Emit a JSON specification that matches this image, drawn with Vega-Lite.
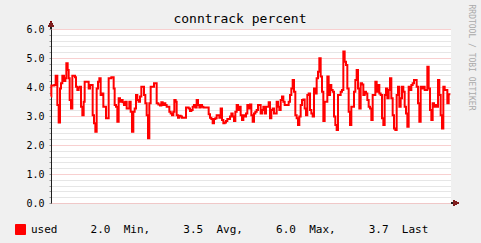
{
  "$schema": "https://vega.github.io/schema/vega-lite/v6.json",
  "width": 400,
  "height": 174,
  "autosize": {"type": "none"},
  "padding": {"left": 51, "top": 29, "right": 30, "bottom": 40},
  "background": "#F0F0F0",
  "config": {"view": {"fill": "#FFFFFF", "stroke": null}, "font": "DejaVu Sans Mono"},
  "title": {"text": "conntrack percent", "font": "DejaVu Sans Mono", "fontSize": 13, "fontWeight": "normal", "color": "#000000", "anchor": "middle", "dx": -11, "dy": 38, "offset": 6, "baseline": "alphabetic"},
  "data": {"values": [
    {"h":0,"v":3.67},{"h":0.02,"v":4.05},{"h":0.2,"v":4.07},{"h":0.28,"v":4.39},{"h":0.38,"v":3.38},{"h":0.46,"v":2.78},{"h":0.54,"v":3.95},{"h":0.6,"v":4.13},{"h":0.68,"v":4.39},{"h":0.78,"v":4.21},{"h":0.86,"v":4.30},{"h":0.92,"v":4.82},{"h":1.0,"v":4.59},{"h":1.06,"v":4.30},{"h":1.12,"v":3.55},{"h":1.2,"v":3.26},{"h":1.28,"v":4.39},{"h":1.44,"v":4.34},{"h":1.5,"v":4.01},{"h":1.58,"v":3.90},{"h":1.66,"v":3.98},{"h":1.74,"v":4.01},{"h":1.8,"v":3.32},{"h":1.88,"v":3.03},{"h":1.96,"v":3.49},{"h":2.02,"v":4.18},{"h":2.26,"v":3.95},{"h":2.34,"v":4.07},{"h":2.5,"v":3.03},{"h":2.58,"v":2.75},{"h":2.66,"v":2.46},{"h":2.74,"v":3.95},{"h":2.82,"v":4.18},{"h":2.9,"v":4.30},{"h":2.98,"v":3.72},{"h":3.06,"v":3.78},{"h":3.14,"v":3.32},{"h":3.3,"v":2.92},{"h":3.46,"v":4.30},{"h":3.62,"v":4.34},{"h":3.76,"v":3.95},{"h":3.82,"v":3.38},{"h":3.9,"v":3.32},{"h":3.98,"v":2.80},{"h":4.06,"v":3.61},{"h":4.14,"v":3.49},{"h":4.22,"v":3.55},{"h":4.3,"v":3.47},{"h":4.38,"v":3.38},{"h":4.46,"v":3.49},{"h":4.54,"v":3.26},{"h":4.7,"v":3.49},{"h":4.78,"v":3.15},{"h":4.86,"v":2.46},{"h":4.94,"v":3.15},{"h":5.02,"v":3.26},{"h":5.1,"v":3.72},{"h":5.18,"v":3.55},{"h":5.26,"v":3.49},{"h":5.34,"v":3.67},{"h":5.42,"v":4.01},{"h":5.58,"v":3.72},{"h":5.66,"v":3.44},{"h":5.74,"v":3.03},{"h":5.82,"v":2.23},{"h":5.9,"v":3.44},{"h":5.98,"v":4.01},
    {"h":6.1,"v":4.01},{"h":6.18,"v":4.13},{"h":6.34,"v":3.44},{"h":6.44,"v":3.40},{"h":6.54,"v":3.36},{"h":6.62,"v":3.47},{"h":6.7,"v":3.38},{"h":6.78,"v":3.44},{"h":6.86,"v":3.38},{"h":6.94,"v":3.32},{"h":7.1,"v":3.15},{"h":7.18,"v":3.09},{"h":7.26,"v":3.03},{"h":7.34,"v":3.15},{"h":7.4,"v":3.55},{"h":7.48,"v":3.49},{"h":7.54,"v":3.03},{"h":7.62,"v":2.94},{"h":7.7,"v":3.01},{"h":7.78,"v":2.98},{"h":7.86,"v":2.94},{"h":8.1,"v":3.29},{"h":8.26,"v":3.26},{"h":8.34,"v":3.17},{"h":8.42,"v":3.21},{"h":8.5,"v":3.32},{"h":8.58,"v":3.38},{"h":8.66,"v":3.29},{"h":8.74,"v":3.55},{"h":8.82,"v":3.38},{"h":8.9,"v":3.29},{"h":8.98,"v":3.38},{"h":9.06,"v":3.32},{"h":9.14,"v":3.29},{"h":9.46,"v":3.06},{"h":9.54,"v":2.94},{"h":9.62,"v":2.90},{"h":9.7,"v":2.75},{"h":9.78,"v":2.90},{"h":9.86,"v":2.92},{"h":9.94,"v":3.03},{"h":10.1,"v":2.94},{"h":10.18,"v":3.26},{"h":10.26,"v":2.86},{"h":10.34,"v":2.75},{"h":10.42,"v":2.78},{"h":10.5,"v":2.83},{"h":10.58,"v":2.90},{"h":10.74,"v":2.98},{"h":10.82,"v":3.09},{"h":10.9,"v":2.98},{"h":10.98,"v":2.83},{"h":11.06,"v":3.15},{"h":11.14,"v":3.38},{"h":11.22,"v":3.21},{"h":11.3,"v":3.32},{"h":11.38,"v":3.03},{"h":11.46,"v":2.86},{"h":11.54,"v":3.03},{"h":11.62,"v":2.98},{"h":11.7,"v":3.09},{"h":11.78,"v":3.38},{"h":11.86,"v":3.26},{"h":11.94,"v":3.40},
    {"h":12.02,"v":3.03},{"h":12.1,"v":2.80},{"h":12.18,"v":3.09},{"h":12.26,"v":3.15},{"h":12.34,"v":3.21},{"h":12.42,"v":3.38},{"h":12.58,"v":3.09},{"h":12.66,"v":3.21},{"h":12.74,"v":3.32},{"h":12.82,"v":3.09},{"h":12.9,"v":3.32},{"h":13.06,"v":3.47},{"h":13.14,"v":2.92},{"h":13.22,"v":3.21},{"h":13.3,"v":3.26},{"h":13.38,"v":3.09},{"h":13.54,"v":3.49},{"h":13.62,"v":3.32},{"h":13.7,"v":3.21},{"h":13.78,"v":3.55},{"h":13.86,"v":3.67},{"h":13.94,"v":3.49},{"h":14.02,"v":3.38},{"h":14.26,"v":3.49},{"h":14.34,"v":3.72},{"h":14.42,"v":3.95},{"h":14.5,"v":4.24},{"h":14.58,"v":3.84},{"h":14.66,"v":3.03},{"h":14.74,"v":2.92},{"h":14.82,"v":2.69},{"h":14.9,"v":2.98},{"h":14.98,"v":3.38},{"h":15.06,"v":3.55},{"h":15.14,"v":3.57},{"h":15.22,"v":3.26},{"h":15.3,"v":3.03},{"h":15.38,"v":3.72},{"h":15.46,"v":3.78},{"h":15.54,"v":3.21},{"h":15.62,"v":3.09},{"h":15.7,"v":2.98},{"h":15.78,"v":3.95},{"h":15.86,"v":3.78},{"h":15.94,"v":4.30},{"h":16.02,"v":4.53},{"h":16.1,"v":4.99},{"h":16.18,"v":4.36},{"h":16.26,"v":3.84},{"h":16.34,"v":2.83},{"h":16.42,"v":3.49},{"h":16.58,"v":4.36},{"h":16.66,"v":3.72},{"h":16.74,"v":4.07},{"h":16.82,"v":3.90},{"h":16.9,"v":3.84},{"h":16.98,"v":2.98},{"h":17.06,"v":2.69},{"h":17.14,"v":2.52},{"h":17.22,"v":3.72},{"h":17.38,"v":3.84},{"h":17.46,"v":3.90},{"h":17.54,"v":5.22},{"h":17.62,"v":4.87},{"h":17.7,"v":4.76},{"h":17.78,"v":3.95},{"h":17.86,"v":3.15},{"h":17.94,"v":2.69},
    {"h":18.02,"v":3.32},{"h":18.18,"v":3.84},{"h":18.26,"v":4.24},{"h":18.34,"v":4.59},{"h":18.42,"v":3.95},{"h":18.5,"v":3.26},{"h":18.58,"v":4.13},{"h":18.66,"v":4.09},{"h":18.74,"v":3.72},{"h":18.82,"v":3.84},{"h":18.9,"v":3.78},{"h":18.98,"v":3.55},{"h":19.06,"v":3.32},{"h":19.14,"v":3.26},{"h":19.22,"v":2.86},{"h":19.3,"v":3.72},{"h":19.46,"v":4.18},{"h":19.54,"v":3.84},{"h":19.62,"v":4.07},{"h":19.7,"v":3.78},{"h":19.78,"v":3.72},{"h":19.86,"v":2.92},{"h":19.94,"v":2.69},{"h":20.02,"v":3.72},{"h":20.1,"v":3.95},{"h":20.18,"v":3.61},{"h":20.26,"v":3.90},{"h":20.34,"v":4.30},{"h":20.42,"v":3.61},{"h":20.5,"v":3.03},{"h":20.58,"v":2.57},{"h":20.66,"v":2.52},{"h":20.74,"v":3.72},{"h":20.82,"v":4.01},{"h":20.9,"v":3.32},{"h":20.98,"v":3.61},{"h":21.06,"v":4.01},{"h":21.14,"v":3.84},{"h":21.22,"v":3.32},{"h":21.3,"v":3.09},{"h":21.38,"v":2.63},{"h":21.46,"v":4.01},{"h":21.54,"v":3.90},{"h":21.62,"v":4.07},{"h":21.7,"v":4.13},{"h":21.78,"v":4.24},{"h":21.94,"v":4.01},{"h":22.02,"v":3.44},{"h":22.1,"v":2.80},{"h":22.18,"v":4.01},{"h":22.26,"v":3.95},{"h":22.34,"v":4.01},{"h":22.42,"v":3.90},{"h":22.58,"v":4.70},{"h":22.66,"v":3.95},{"h":22.74,"v":3.21},{"h":22.82,"v":2.86},{"h":22.9,"v":3.44},{"h":22.98,"v":3.32},{"h":23.06,"v":3.38},{"h":23.14,"v":3.32},{"h":23.22,"v":4.24},{"h":23.3,"v":3.72},{"h":23.38,"v":3.03},{"h":23.46,"v":2.57},{"h":23.54,"v":4.01},{"h":23.62,"v":3.90},{"h":23.78,"v":3.44},{"h":23.86,"v":3.75},{"h":23.96,"v":3.75}
  ]},
  "resolve": {"axis": {"y": "independent"}},
  "layer": [
    {
      "mark": {"type": "line", "interpolate": "step-after", "strokeWidth": 2, "strokeCap": "butt", "strokeJoin": "miter"},
      "encoding": {
        "x": {"field": "h", "type": "quantitative", "scale": {"domain": [0, 24], "nice": false, "zero": false},
          "axis": {"title": null, "values": [0,1,2,3,4,5,6,7,8,9,10,11,12,13,14,15,16,17,18,19,20,21,22,23],
            "labelExpr": "datum.value == 0 ? 'Fri 18:00' : datum.value == 6 ? 'Sat 00:00' : datum.value == 12 ? 'Sat 06:00' : datum.value == 18 ? 'Sat 12:00' : ''",
            "labelFont": "DejaVu Sans Mono", "labelFontSize": 10, "labelColor": "#000000", "labelPadding": 3, "labelOverlap": false, "labelFlush": false,
            "grid": true, "gridDash": [1, 1], "gridWidth": 1,
            "gridColor": {"condition": {"test": "datum.value % 3 === 0", "value": "#F0A0A0"}, "value": "#CCCCCC"},
            "tickSize": 2, "tickColor": "#999999", "domainColor": "#1F1F1F"}},
        "y": {"field": "v", "type": "quantitative", "scale": {"domain": [0, 6], "nice": false, "zero": true},
          "axis": {"title": null, "values": [0,0.2,0.4,0.6,0.8,1,1.2,1.4,1.6,1.8,2,2.2,2.4,2.6,2.8,3,3.2,3.4,3.6,3.8,4,4.2,4.4,4.6,4.8,5,5.2,5.4,5.6,5.8,6],
            "labelExpr": "datum.value % 1 === 0 ? format(datum.value, '.1f') : ''",
            "labelFont": "DejaVu Sans Mono", "labelFontSize": 10, "labelColor": "#000000", "labelPadding": 5, "labelOverlap": false, "labelFlush": false,
            "grid": true, "gridDash": [1, 1], "gridWidth": 1,
            "gridColor": {"condition": {"test": "datum.value % 1 === 0", "value": "#F0A0A0"}, "value": "#CCCCCC"},
            "tickSize": 2, "tickColor": "#999999", "domainColor": "#1F1F1F"}},
        "color": {"datum": "used", "scale": {"range": ["#FF0000"]},
          "legend": {"orient": "none", "legendX": -36, "legendY": 195, "title": null, "padding": 0,
            "symbolType": "square", "symbolSize": 100, "symbolFillColor": "#FF0000", "symbolStrokeColor": "#000000", "symbolStrokeWidth": 1,
            "labelFont": "DejaVu Sans Mono", "labelFontSize": 11, "labelColor": "#000000", "labelOffset": 5, "labelLimit": 0,
            "labelExpr": "'used\u00a0\u00a0\u00a0\u00a0\u00a02.0\u00a0\u00a0Min,\u00a0\u00a0\u00a0\u00a0\u00a03.5\u00a0\u00a0Avg,\u00a0\u00a0\u00a0\u00a0\u00a06.0\u00a0\u00a0Max,\u00a0\u00a0\u00a0\u00a0\u00a03.7\u00a0\u00a0Last'",
            "encode": {"symbols": {"update": {"fill": {"value": "#FF0000"}, "stroke": {"value": "#000000"}, "strokeWidth": {"value": 1}, "opacity": {"value": 1}}}}}}
      }
    },
    {
      "mark": {"type": "rule", "color": "#1F1F1F", "strokeWidth": 1},
      "encoding": {
        "x": {"datum": 0, "axis": null},
        "y": {"datum": 6, "axis": {"orient": "right", "domain": false, "ticks": false, "labels": false, "grid": false,
          "title": "RRDTOOL / TOBI OETIKER", "titleFont": "DejaVu Sans Mono", "titleFontSize": 8, "titleFontWeight": "normal", "titleColor": "#AAAAAA",
          "titleAngle": 90, "titleAlign": "left", "titleBaseline": "middle", "titleX": 19, "titleY": -25}},
        "y2": {"datum": 6.2}
      }
    },
    {
      "mark": {"type": "rule", "color": "#1F1F1F", "strokeWidth": 1},
      "encoding": {
        "x": {"datum": 24},
        "x2": {"datum": 24.2},
        "y": {"datum": 0, "axis": null}
      }
    },
    {
      "mark": {"type": "point", "shape": "triangle-up", "filled": true, "color": "#7F1F1F", "size": 30, "opacity": 1},
      "encoding": {
        "x": {"datum": 0},
        "y": {"datum": 6.17, "axis": null}
      }
    },
    {
      "mark": {"type": "point", "shape": "triangle-right", "filled": true, "color": "#7F1F1F", "size": 30, "opacity": 1},
      "encoding": {
        "x": {"datum": 24.3},
        "y": {"datum": 0, "axis": null}
      }
    }
  ]
}
